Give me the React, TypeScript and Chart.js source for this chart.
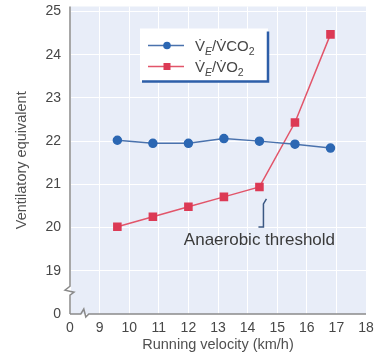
import { useEffect, useRef } from "react";
import { Chart, registerables } from "chart.js";

Chart.register(...registerables);

// ---- data ----
const velocity = [9.6, 10.8, 12.0, 13.2, 14.4, 15.6, 16.8];
const veVco2 = [22.02, 21.95, 21.95, 22.06, 22.0, 21.93, 21.84];
const veVo2 = [20.02, 20.25, 20.48, 20.71, 20.94, 22.43, 24.47];

const xTickValues = [8, 9, 10, 11, 12, 13, 14, 15, 16, 17, 18];
const xTickLabels = ["0", "9", "10", "11", "12", "13", "14", "15", "16", "17", "18"];
const yTickValues = [18, 19, 20, 21, 22, 23, 24, 25];
const yTickLabels = ["0", "19", "20", "21", "22", "23", "24", "25"];

const xBreakValue = 8.5;
const yBreakValue = 18.55;
const thresholdIndex = 4;
const annotationText = "Anaerobic threshold";
const annotationY = 19.7;

const FONT = "'Liberation Sans', Arial, Helvetica, sans-serif";
const BLUE_LINE = "#4a72ad";
const BLUE_POINT = "#2c67b3";
const RED_LINE = "#e2556a";
const RED_POINT = "#dc3a55";
const BG = "#e8edf8";
const AXIS = "#8a8a8a";
const TEXT = "#474747";

type Part = { t: string; size: number; italic?: boolean; dy?: number };

function drawRich(ctx: CanvasRenderingContext2D, x: number, y: number, parts: Part[]) {
  ctx.textAlign = "left";
  ctx.textBaseline = "alphabetic";
  for (const p of parts) {
    ctx.font = `${p.italic ? "italic " : ""}${p.size}px ${FONT}`;
    ctx.fillText(p.t, x, y + (p.dy || 0));
    x += ctx.measureText(p.t).width;
  }
}

const bgPlugin = {
  id: "bgPlugin",
  beforeDraw(chart: any) {
    const { ctx, chartArea } = chart;
    ctx.save();
    ctx.fillStyle = BG;
    ctx.fillRect(chartArea.left, chartArea.top, chartArea.right - chartArea.left, chartArea.bottom - chartArea.top);
    ctx.restore();
  },
};

const decorPlugin = {
  id: "decorPlugin",
  afterDraw(chart: any) {
    const { ctx, chartArea, scales } = chart;
    const xs = scales.x;
    const ys = scales.y;
    const L = chartArea.left;
    const B = chartArea.bottom;
    const T = chartArea.top;
    const R = chartArea.right;
    ctx.save();
    // axes with break marks
    ctx.strokeStyle = AXIS;
    ctx.lineWidth = 1.5;
    ctx.lineJoin = "miter";
    const yb = ys.getPixelForValue(yBreakValue);
    ctx.beginPath();
    ctx.moveTo(L, T);
    ctx.lineTo(L, yb - 4);
    ctx.lineTo(L - 5, yb);
    ctx.lineTo(L + 4, yb + 2);
    ctx.lineTo(L, yb + 5);
    ctx.lineTo(L, B);
    ctx.stroke();
    const xb = xs.getPixelForValue(xBreakValue);
    ctx.beginPath();
    ctx.moveTo(L, B);
    ctx.lineTo(xb - 4, B);
    ctx.lineTo(xb - 1, B - 5);
    ctx.lineTo(xb + 1, B + 3);
    ctx.lineTo(xb + 4, B);
    ctx.lineTo(R, B);
    ctx.stroke();

    // legend box
    const lx = L + 70;
    const ly = T + 22;
    const lw = 128;
    const lh = 53;
    ctx.fillStyle = "#ffffff";
    ctx.fillRect(lx, ly, lw, lh);
    ctx.strokeStyle = "#2d5ea8";
    ctx.lineWidth = 2.5;
    ctx.beginPath();
    ctx.moveTo(lx + 2, ly + lh);
    ctx.lineTo(lx + lw, ly + lh);
    ctx.lineTo(lx + lw, ly + 3);
    ctx.stroke();

    const rows = [
      { y: ly + 17, line: BLUE_LINE, point: BLUE_POINT, shape: "circle", gas: "CO" },
      { y: ly + 38, line: RED_LINE, point: RED_POINT, shape: "rect", gas: "O" },
    ];
    for (const r of rows) {
      ctx.strokeStyle = r.line;
      ctx.lineWidth = 1.5;
      ctx.beginPath();
      ctx.moveTo(lx + 8, r.y);
      ctx.lineTo(lx + 44, r.y);
      ctx.stroke();
      ctx.fillStyle = r.point;
      if (r.shape === "circle") {
        ctx.beginPath();
        ctx.arc(lx + 27, r.y, 3.8, 0, Math.PI * 2);
        ctx.fill();
      } else {
        ctx.fillRect(lx + 23.5, r.y - 3.5, 7, 7);
      }
      ctx.fillStyle = TEXT;
      drawRich(ctx, lx + 55, r.y + 5.5, [
        { t: "V\u0307", size: 15 },
        { t: "E", size: 10.5, italic: true, dy: 3.5 },
        { t: "/", size: 15 },
        { t: "V\u0307", size: 15 },
        { t: r.gas, size: 15 },
        { t: "2", size: 10.5, dy: 3.5 },
      ]);
    }

    // annotation
    const tx = xs.getPixelForValue(velocity[thresholdIndex]);
    const ty = ys.getPixelForValue(veVo2[thresholdIndex]);
    ctx.fillStyle = "#3a3a3a";
    ctx.font = `17px ${FONT}`;
    ctx.textAlign = "center";
    ctx.textBaseline = "middle";
    ctx.fillText(annotationText, tx, ys.getPixelForValue(annotationY));
    ctx.strokeStyle = "#3b5883";
    ctx.lineWidth = 1.5;
    ctx.beginPath();
    ctx.moveTo(tx - 1, ty + 40);
    ctx.lineTo(tx + 4, ty + 40);
    ctx.lineTo(tx + 4, ty + 17);
    ctx.lineTo(tx + 7, ty + 12);
    ctx.stroke();
    ctx.restore();
  },
};

export default function App() {
  const ref = useRef<HTMLCanvasElement | null>(null);
  useEffect(() => {
    document.body.style.margin = "0";
    const canvas = ref.current;
    if (!canvas) return;
    const chart = new Chart(canvas, {
      type: "line",
      data: {
        datasets: [
          {
            label: "VE/VCO2",
            data: velocity.map((v, i) => ({ x: v, y: veVco2[i] })),
            borderColor: BLUE_LINE,
            backgroundColor: BLUE_POINT,
            pointBackgroundColor: BLUE_POINT,
            pointBorderColor: BLUE_POINT,
            borderWidth: 1.5,
            pointRadius: 4,
            pointStyle: "circle",
            tension: 0,
          },
          {
            label: "VE/VO2",
            data: velocity.map((v, i) => ({ x: v, y: veVo2[i] })),
            borderColor: RED_LINE,
            backgroundColor: RED_POINT,
            pointBackgroundColor: RED_POINT,
            pointBorderColor: RED_POINT,
            borderWidth: 1.5,
            pointRadius: 5,
            pointStyle: "rect",
            tension: 0,
          },
        ],
      },
      options: {
        animation: false,
        responsive: false,
        devicePixelRatio: 1,
        layout: { padding: { top: 5, right: 26, left: 0, bottom: 0 } },
        plugins: { legend: { display: false }, tooltip: { enabled: false } },
        scales: {
          x: {
            type: "linear",
            min: 8,
            max: 18,
            afterBuildTicks: (s: any) => {
              s.ticks = xTickValues.map((v) => ({ value: v }));
            },
            afterFit: (s: any) => {
              s.height = 46;
              s.paddingLeft = 0;
              s.paddingRight = 0;
            },
            ticks: {
              padding: 6,
              color: TEXT,
              font: { family: FONT, size: 14 },
              maxRotation: 0,
              callback: (_v: any, i: number) => xTickLabels[i],
            },
            grid: { color: "#ffffff", lineWidth: 1, drawTicks: false },
            border: { display: false },
            title: {
              display: true,
              text: "Running velocity (km/h)",
              color: "#505050",
              font: { family: FONT, size: 14.5 },
              padding: { top: 0, bottom: 6 },
            },
          },
          y: {
            type: "linear",
            min: 18,
            max: 25.115,
            afterBuildTicks: (s: any) => {
              s.ticks = yTickValues.map((v) => ({ value: v }));
            },
            afterFit: (s: any) => {
              s.width = 70;
              s.paddingTop = 0;
              s.paddingBottom = 0;
            },
            ticks: {
              padding: 9,
              color: TEXT,
              font: { family: FONT, size: 14 },
              callback: (_v: any, i: number) => yTickLabels[i],
            },
            grid: { color: "#ffffff", lineWidth: 1, drawTicks: false },
            border: { display: false },
            title: {
              display: true,
              text: "Ventilatory equivalent",
              color: "#505050",
              font: { family: FONT, size: 14.5 },
              padding: { top: 13, bottom: 0 },
            },
          },
        },
      },
      plugins: [bgPlugin, decorPlugin],
    } as any);
    return () => chart.destroy();
  }, []);
  return (
    <div style={{ width: 392, height: 360 }}>
      <canvas ref={ref} width={392} height={360} style={{ display: "block", width: 392, height: 360 }} />
    </div>
  );
}
